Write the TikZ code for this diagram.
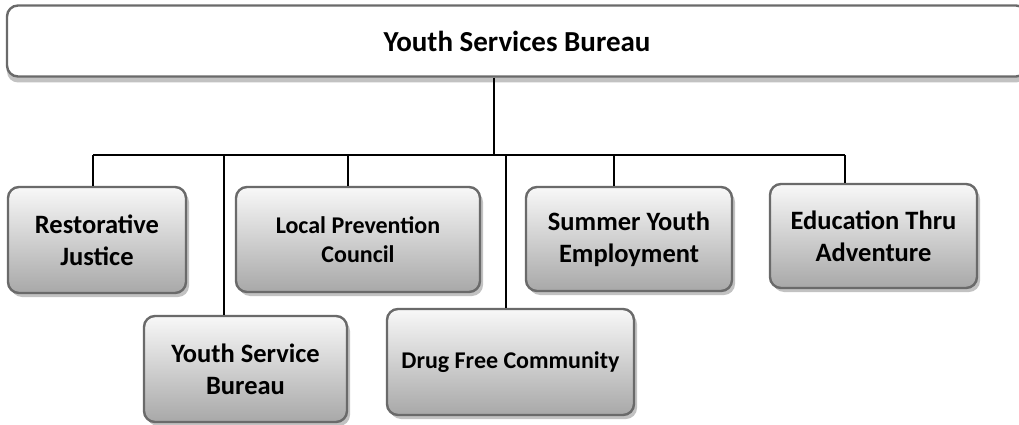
\documentclass[tikz,border=0pt]{standalone}
\usepackage{fontspec}
\setmainfont{Carlito}
\usetikzlibrary{shadows}
\definecolor{boxtop}{HTML}{F8F8F8}
\definecolor{boxbot}{HTML}{A8A8A8}
\definecolor{boxline}{HTML}{6A6A6A}
\definecolor{boxshade}{HTML}{C2C2C2}
\begin{document}
\begin{tikzpicture}[
  x=1pt, y=-1pt,
  unit/.style={rounded corners=11pt, draw=boxline, line width=2.4pt,
    top color=boxtop, bottom color=boxbot, align=center,
    font=\fontsize{26.5}{32}\selectfont\bfseries,
    drop shadow={shadow xshift=3pt, shadow yshift=-4pt, fill=boxshade, opacity=1}},
  small unit/.style={unit, font=\fontsize{24}{29}\selectfont\bfseries},
  head/.style={rounded corners=11pt, draw=boxline, line width=2.4pt, fill=white,
    font=\fontsize{29}{34}\selectfont\bfseries,
    drop shadow={shadow xshift=0pt, shadow yshift=-6pt, fill=boxshade, opacity=1}},
  link/.style={line width=2pt}
]
  \useasboundingbox (0,0) rectangle (1019,425);
  \node[head, minimum width=1020pt, minimum height=71pt] (bureau) at (517, 41) {Youth Services Bureau};

  \node[unit, minimum width=178pt, minimum height=106pt] (rj)  at (97, 240)    {Restorative\\Justice};
  \node[unit, minimum width=203pt, minimum height=106pt] (ysb) at (245.5, 369) {Youth Service\\Bureau};
  \node[small unit, minimum width=244pt, minimum height=105pt] (lpc) at (358, 239.5) {Local Prevention\\Council};
  \node[small unit, minimum width=247pt, minimum height=106pt] (dfc) at (510.5, 362) {Drug Free Community};
  \node[unit, minimum width=206pt, minimum height=104pt] (sye) at (629, 239)   {Summer Youth\\Employment};
  \node[unit, minimum width=207pt, minimum height=104pt] (eta) at (873.5, 236) {Education Thru\\Adventure};

  % bus points
  \coordinate (top) at (494, 155);
  \coordinate (b1) at (93, 155);
  \coordinate (b2) at (224, 155);
  \coordinate (b3) at (348, 155);
  \coordinate (b4) at (506, 155);
  \coordinate (b5) at (614, 155);
  \coordinate (b6) at (845, 155);

  \draw[link] (bureau.south -| top) -- (top);
  \draw[link] (b1) -- (b6);
  \draw[link] (b1) -- (b1 |- rj.north);
  \draw[link] (b2) -- (b2 |- ysb.north);
  \draw[link] (b3) -- (b3 |- lpc.north);
  \draw[link] (b4) -- (b4 |- dfc.north);
  \draw[link] (b5) -- (b5 |- sye.north);
  \draw[link] (b6) -- (b6 |- eta.north);
\end{tikzpicture}
\end{document}
